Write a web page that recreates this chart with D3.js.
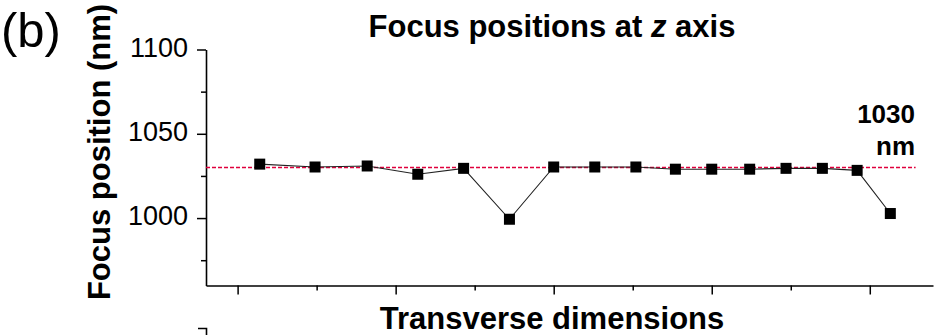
<!DOCTYPE html>
<html>
<head>
<meta charset="utf-8">
<script src="https://cdn.jsdelivr.net/npm/d3@7/dist/d3.min.js"></script>
<style>
  html, body { margin: 0; padding: 0; background: #fff; }
  svg { display: block; font-family: "Liberation Sans", Arial, Helvetica, sans-serif; }
</style>
</head>
<body>
<svg id="chart" width="941" height="335"></svg>
<script>
// Measured focus positions along the transverse direction
const transversePos = [11.4, 14.9, 18.2, 21.4, 24.3, 27.2, 30.0, 32.6, 35.2, 37.7, 40.0, 42.4, 44.7, 47.0, 49.2, 51.3];
const focusNm       = [1032, 1030.3, 1030.9, 1026, 1029.5, 999.3, 1030.3, 1030.3, 1030.3, 1029, 1029, 1029, 1029.5, 1029.5, 1028.3, 1002.7];

// Design focus (reference line)
const targetFocus = 1030;
const targetLabel = ["1030", "nm"];

// Axis ticks
const yMajorTicks = [1000, 1050, 1100];
const yMinorTicks = [975, 1025, 1075];
const xMajorTicks = [10, 20, 30, 40, 50];
const xMinorTicks = [15, 25, 35, 45];

const svg = d3.select("#chart");

const x = d3.scaleLinear().domain([8, 54]).range([206, 933]);
const y = d3.scaleLinear().domain([960, 1100]).range([285.5, 49.5]);

// panel tag
svg.append("text")
  .attr("x", 1).attr("y", 47)
  .attr("font-size", 49)
  .text("(b)");

// title
const title = svg.append("text")
  .attr("x", 552).attr("y", 37)
  .attr("text-anchor", "middle")
  .attr("font-size", 31).attr("font-weight", "bold");
title.append("tspan").text("Focus positions at ");
title.append("tspan").attr("font-style", "italic").text("z");
title.append("tspan").text(" axis");

// y axis
const yAxis = svg.append("g")
  .attr("transform", `translate(${x.range()[0]},0)`)
  .call(d3.axisLeft(y).tickValues(yMajorTicks).tickFormat(d3.format("d"))
        .tickSize(9).tickPadding(9).tickSizeOuter(0));
yAxis.selectAll("text").attr("font-size", 27).attr("fill", "#000").attr("dy", "0.25em")
  .attr("font-family", "'Liberation Sans', Arial, sans-serif");

const yMinor = svg.append("g")
  .attr("transform", `translate(${x.range()[0]},0)`)
  .call(d3.axisLeft(y).tickValues(yMinorTicks).tickFormat("").tickSize(5).tickSizeOuter(0));
yMinor.select(".domain").remove();

// x axis
const xAxis = svg.append("g")
  .attr("transform", `translate(0,${y.range()[0]})`)
  .call(d3.axisBottom(x).tickValues(xMajorTicks).tickFormat("").tickSize(9).tickSizeOuter(0));
const xMinor = svg.append("g")
  .attr("transform", `translate(0,${y.range()[0]})`)
  .call(d3.axisBottom(x).tickValues(xMinorTicks).tickFormat("").tickSize(5).tickSizeOuter(0));
xMinor.select(".domain").remove();

svg.selectAll(".domain").attr("stroke", "#000").attr("stroke-width", 1.6);
svg.selectAll(".tick line").attr("stroke", "#000").attr("stroke-width", 1.5);

// axis titles
svg.append("text")
  .attr("transform", `translate(110,152) rotate(-90)`)
  .attr("text-anchor", "middle")
  .attr("font-size", 31).attr("font-weight", "bold")
  .text("Focus position (nm)");

svg.append("text")
  .attr("x", 552).attr("y", 329)
  .attr("text-anchor", "middle")
  .attr("font-size", 31).attr("font-weight", "bold")
  .text("Transverse dimensions");

// reference line at the design focus
svg.append("line")
  .attr("x1", x(8)).attr("x2", x(52.9))
  .attr("y1", y(targetFocus)).attr("y2", y(targetFocus))
  .attr("stroke", "#e0003c").attr("stroke-width", 1.3)
  .attr("stroke-dasharray", "4,2");

svg.append("g")
  .selectAll("text").data(targetLabel).join("text")
  .attr("x", 915).attr("y", (d, i) => 123 + i * 32)
  .attr("text-anchor", "end")
  .attr("font-size", 26).attr("font-weight", "bold")
  .text(d => d);

// data line and markers
const pts = transversePos.map((t, i) => [t, focusNm[i]]);
svg.append("path")
  .datum(pts)
  .attr("fill", "none")
  .attr("stroke", "#222").attr("stroke-width", 1.1)
  .attr("d", d3.line().x(d => x(d[0])).y(d => y(d[1])));

const s = 11;
svg.append("g")
  .selectAll("rect").data(pts).join("rect")
  .attr("x", d => x(d[0]) - s / 2).attr("y", d => y(d[1]) - s / 2)
  .attr("width", s).attr("height", s)
  .attr("fill", "#000");

// top edge of the next panel's axis
svg.append("path")
  .attr("d", `M198,328.5H206.5V335`)
  .attr("fill", "none").attr("stroke", "#000").attr("stroke-width", 1.6);
</script>
</body>
</html>
